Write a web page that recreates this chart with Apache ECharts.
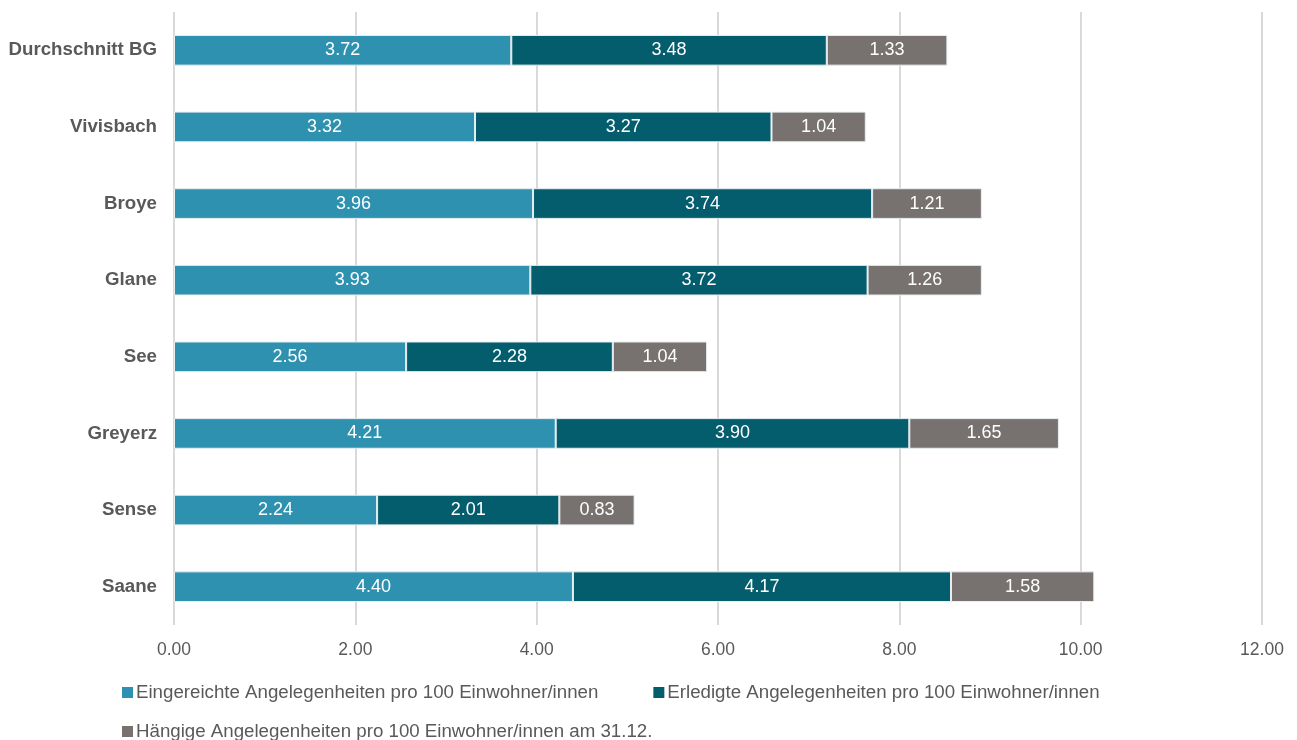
<!DOCTYPE html>
<html>
<head>
<meta charset="utf-8">
<script src="https://cdn.jsdelivr.net/npm/echarts@6/dist/echarts.min.js"></script>
<style>
  html, body { margin: 0; padding: 0; background: #fff; }
  #chart { width: 1297px; height: 740px; }
</style>
</head>
<body>
<div id="chart"></div>
<script>
// Regions, listed top to bottom
const regions = ['Durchschnitt BG', 'Vivisbach', 'Broye', 'Glane', 'See', 'Greyerz', 'Sense', 'Saane'];

// Matters per 100 inhabitants
const eingereicht = [3.72, 3.32, 3.96, 3.93, 2.56, 4.21, 2.24, 4.40];
const erledigt    = [3.48, 3.27, 3.74, 3.72, 2.28, 3.90, 2.01, 4.17];
const haengig     = [1.33, 1.04, 1.21, 1.26, 1.04, 1.65, 0.83, 1.58];

const seriesNames = [
  'Eingereichte Angelegenheiten pro 100 Einwohner/innen',
  'Erledigte Angelegenheiten pro 100 Einwohner/innen',
  'Hängige Angelegenheiten pro 100 Einwohner/innen am 31.12.'
];
const seriesColors = ['#2E91B0', '#045D6C', '#77716F'];
const seriesData = [eingereicht, erledigt, haengig];

const fontFamily = '"Liberation Sans", Arial, sans-serif';

const chart = echarts.init(document.getElementById('chart'), null, { renderer: 'canvas' });

const legendBase = {
  left: 122,
  padding: 0,
  itemWidth: 11,
  itemHeight: 11,
  itemGap: 55,
  icon: 'rect',
  itemStyle: { borderWidth: 0 },
  textStyle: { fontFamily, fontSize: 18.7, color: '#595959', padding: [0, 0, 0, -2] }
};

chart.setOption({
  animation: false,
  grid: { left: 174, right: 35, top: 12, bottom: 115 },
  legend: [
    Object.assign({}, legendBase, { top: 683, data: [seriesNames[0], seriesNames[1]] }),
    Object.assign({}, legendBase, { top: 722, data: [seriesNames[2]] })
  ],
  xAxis: {
    type: 'value',
    min: 0,
    max: 12,
    interval: 2,
    axisLine: { show: false },
    axisTick: { show: false },
    splitLine: { show: true, lineStyle: { color: '#D9D9D9', width: 2 } },
    axisLabel: {
      fontFamily, fontSize: 17.5, color: '#595959', margin: 16,
      formatter: v => v.toFixed(2)
    }
  },
  yAxis: {
    type: 'category',
    inverse: true,
    data: regions,
    axisLine: { show: false },
    axisTick: { show: false },
    axisLabel: {
      fontFamily, fontSize: 18.7, fontWeight: 'bold', color: '#595959', margin: 17
    }
  },
  series: seriesNames.map((name, i) => ({
    name,
    type: 'bar',
    stack: 'total',
    barWidth: '40%',
    data: seriesData[i],
    itemStyle: { color: seriesColors[i], borderColor: '#E8EEF0', borderWidth: 1 },
    label: {
      show: true,
      position: 'inside',
      fontFamily, fontSize: 18, color: '#FFFFFF',
      formatter: p => p.value.toFixed(2)
    }
  }))
});
</script>
</body>
</html>
